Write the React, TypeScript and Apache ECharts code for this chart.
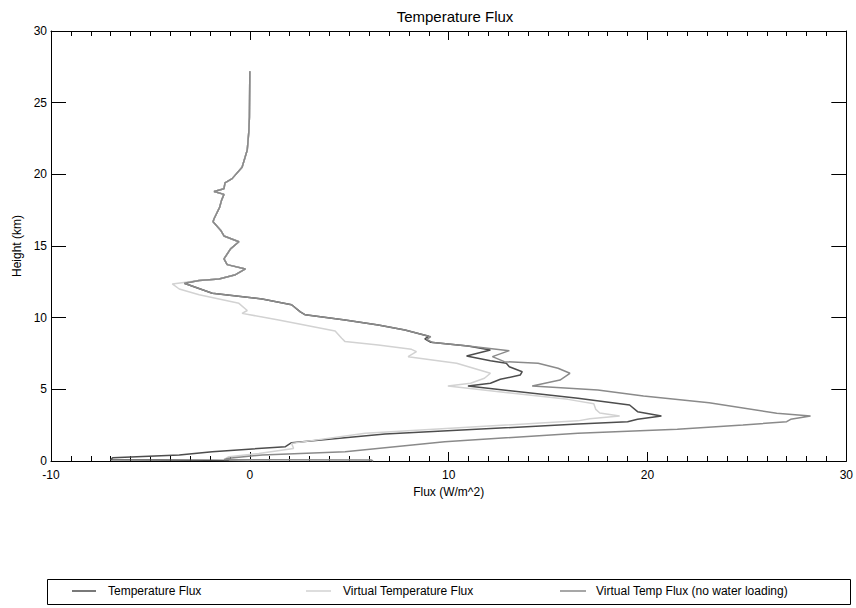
import React, { useEffect, useRef } from "react";
import * as echarts from "echarts";

// Shared upper profile (flux W/m^2, height km), identical for all three series
const upperFlux = [0, -0.02, -0.05, -0.13, -0.39, -0.89, -1.25, -1.3, -1.8, -1.3, -1.42, -1.52, -1.8, -1.85, -1.47, -1.3, -0.55, -0.97, -1.3, -1.14, -0.22, -0.72, -1.55, -2.55];
const upperHeight = [27.2, 24.0, 23.0, 21.7, 20.5, 19.7, 19.4, 19.0, 18.8, 18.6, 18.2, 17.7, 16.9, 16.7, 16.1, 15.7, 15.3, 14.8, 14.1, 13.7, 13.4, 13.0, 12.7, 12.6];

// Temperature Flux below 12.6 km
const tempFlux = [-3.3, -1.89, 0.62, 2.1, 2.54, 2.79, 4.79, 6.46, 7.8, 9.0, 8.8, 9.1, 10.97, 12.1, 10.9, 12.1, 12.9, 13.05, 13.7, 13.6, 12.6, 12.1, 10.97, 16.5, 19.1, 19.5, 20.7, 19.5, 19.0, 16.5, 6.8, 2.1, 1.79, -1.89, -3.55, -6.9, -7.0, -2.0, 0.0];
const tempHeight = [12.4, 11.7, 11.3, 10.9, 10.4, 10.2, 9.84, 9.49, 9.14, 8.7, 8.52, 8.28, 8.03, 7.75, 7.33, 7.0, 6.82, 6.58, 6.23, 6.0, 5.7, 5.42, 5.23, 4.37, 3.91, 3.44, 3.14, 2.91, 2.74, 2.58, 1.88, 1.28, 1.0, 0.65, 0.42, 0.23, 0.08, 0.05, 0.02];

// Virtual Temperature Flux below 12.6 km
const virtFlux = [-3.9, -3.55, -2.55, -0.55, -0.13, -0.39, 1.45, 4.29, 4.62, 4.79, 6.46, 8.13, 8.38, 7.96, 10.4, 12.1, 11.8, 11.1, 9.96, 16.0, 17.3, 17.4, 17.6, 18.6, 17.1, 16.5, 5.8, 2.1, 2.2, 0.45, -1.05, -1.2, -1.0, 1.0];
const virtHeight = [12.35, 12.0, 11.6, 11.0, 10.5, 10.3, 9.84, 9.07, 8.56, 8.33, 8.1, 7.79, 7.63, 7.28, 6.82, 6.12, 5.77, 5.42, 5.23, 4.3, 4.0, 3.6, 3.35, 3.14, 2.95, 2.8, 1.93, 1.23, 0.88, 0.53, 0.3, 0.19, 0.08, 0.05];

// Virtual Temp Flux (no water loading) below 12.6 km
const noWaterFlux = [-3.3, -1.89, 0.62, 2.1, 2.54, 2.79, 4.79, 6.46, 7.8, 9.1, 8.9, 9.2, 10.97, 13.05, 12.2, 12.8, 14.5, 15.5, 16.1, 15.6, 14.2, 17.5, 19.8, 23.1, 26.5, 28.2, 27.2, 27.0, 24.8, 21.5, 16.5, 9.8, 4.79, 0.62, -1.05, -1.3, 6.1, 6.2];
const noWaterHeight = [12.4, 11.7, 11.3, 10.9, 10.4, 10.2, 9.84, 9.49, 9.14, 8.67, 8.49, 8.26, 8.03, 7.7, 7.28, 6.93, 6.82, 6.47, 6.12, 5.65, 5.23, 4.95, 4.54, 4.07, 3.33, 3.14, 2.91, 2.74, 2.51, 2.21, 1.93, 1.35, 0.65, 0.42, 0.19, 0.1, 0.07, 0.0];

const seriesNames = ["Temperature Flux", "Virtual Temperature Flux", "Virtual Temp Flux (no water loading)"];
const seriesColors = ["#4d4d4d", "#d2d2d2", "#8a8a8a"];

const xTickMin = -10;
const xTickMax = 30;
const yTickMin = 0;
const yTickMax = 30;

function pairs(fx: number[], hy: number[]): number[][] {
  return fx.map((f, i) => [f, hy[i]]);
}

const FONT = "Liberation Sans, Arial, Helvetica, sans-serif";

export default function App() {
  const ref = useRef<HTMLDivElement>(null);
  useEffect(() => {
    if (!ref.current) return;
    const chart = echarts.init(ref.current, undefined, { renderer: "svg" });
    const upper = pairs(upperFlux, upperHeight);
    const data = [
      upper.concat(pairs(tempFlux, tempHeight)),
      upper.concat(pairs(virtFlux, virtHeight)),
      upper.concat(pairs(noWaterFlux, noWaterHeight)),
    ];
    const tickStyle = { color: "#000", width: 1 };
    const baseX = {
      type: "value",
      min: xTickMin,
      max: xTickMax,
      interval: 10,
      splitLine: { show: false },
      axisLine: { show: true, onZero: false, lineStyle: { color: "#000", width: 1 } },
      axisTick: { show: true, inside: true, length: 9, lineStyle: tickStyle },
      minorTick: { show: true, splitNumber: 10, length: 5, lineStyle: tickStyle },
    };
    const baseY = {
      type: "value",
      min: yTickMin,
      max: yTickMax,
      interval: 5,
      splitLine: { show: false },
      axisLine: { show: true, onZero: false, lineStyle: { color: "#000", width: 1 } },
      axisTick: { show: true, inside: true, length: 15, lineStyle: tickStyle },
    };
    const legendY = 591;
    const legendItems = [
      { x1: 72, x2: 96, tx: 108 },
      { x1: 306, x2: 331, tx: 343 },
      { x1: 560, x2: 586, tx: 596 },
    ];
    const graphics: any[] = [
      {
        type: "rect",
        shape: { x: 47.5, y: 579.5, width: 803, height: 25 },
        style: { fill: "none", stroke: "#000", lineWidth: 1 },
      },
    ];
    legendItems.forEach((it, i) => {
      graphics.push({
        type: "line",
        shape: { x1: it.x1, y1: legendY, x2: it.x2, y2: legendY },
        style: { stroke: seriesColors[i], lineWidth: 1.5 },
      });
      graphics.push({
        type: "text",
        x: it.tx,
        y: legendY,
        style: { text: seriesNames[i], fill: "#000", font: `12px ${FONT}`, textVerticalAlign: "middle", verticalAlign: "middle" },
      });
    });
    chart.setOption({
      animation: false,
      backgroundColor: "#fff",
      textStyle: { fontFamily: FONT },
      title: {
        text: "Temperature Flux",
        left: 450,
        textAlign: "center",
        top: 4,
        textStyle: { fontSize: 15, fontWeight: "normal", color: "#000", fontFamily: FONT },
      },
      grid: { left: 51, right: 7, top: 31, bottom: 147, containLabel: false },
      xAxis: [
        {
          ...baseX,
          position: "bottom",
          name: "Flux (W/m^2)",
          nameLocation: "middle",
          nameGap: 20,
          nameTextStyle: { fontSize: 12, color: "#000", fontFamily: FONT },
          axisLabel: { show: true, fontSize: 12, color: "#000", margin: 8, fontFamily: FONT },
        },
        { ...baseX, position: "top", axisLabel: { show: false } },
      ],
      yAxis: [
        {
          ...baseY,
          position: "left",
          name: "Height (km)",
          nameLocation: "middle",
          nameRotate: 90,
          nameGap: 28,
          nameTextStyle: { fontSize: 12, color: "#000", fontFamily: FONT },
          axisLabel: { show: true, fontSize: 12, color: "#000", margin: 4, fontFamily: FONT },
        },
        { ...baseY, position: "right", axisLabel: { show: false } },
      ],
      series: data.map((d, i) => ({
        name: seriesNames[i],
        type: "line",
        xAxisIndex: 0,
        yAxisIndex: 0,
        data: d,
        showSymbol: false,
        symbol: "none",
        smooth: false,
        clip: true,
        lineStyle: { color: seriesColors[i], width: 1.5 },
        z: 2 + i,
      })),
      graphic: graphics,
    });
    return () => chart.dispose();
  }, []);
  return <div ref={ref} style={{ width: 856, height: 608, position: "absolute", left: 0, top: 0 }} />;
}
